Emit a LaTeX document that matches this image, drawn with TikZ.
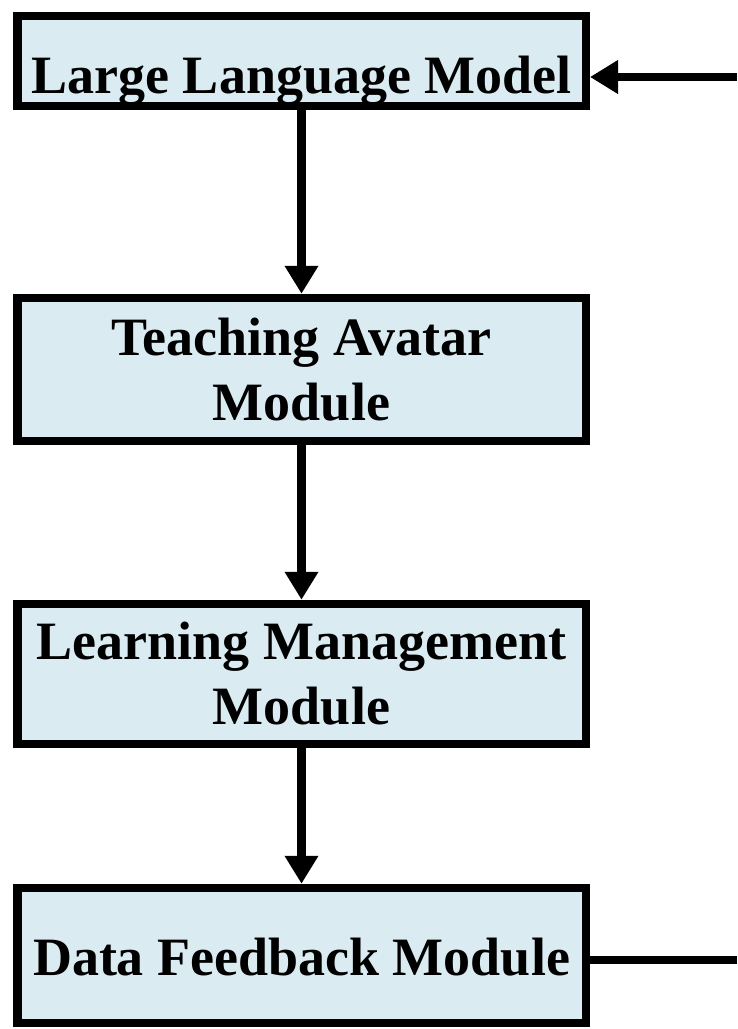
\documentclass[tikz,border=0pt]{standalone}
\usepackage{fontspec}
\setmainfont{Liberation Serif}
\usetikzlibrary{arrows.meta}

\definecolor{boxblue}{RGB}{218,236,242}
\tikzset{block/.style={rectangle, draw, line width=8.5pt, fill=boxblue, minimum width=568.5pt, inner xsep=0pt, align=center, font=\bfseries\fontsize{54}{65}\selectfont}}

\begin{document}
\begin{tikzpicture}[x=1pt, y=-1pt, flow/.style={line width=8.5pt, -{Triangle[width=32pt,length=28pt]}}]
			\useasboundingbox (0,0) rectangle (737,1029);
			
			\node[block, inner ysep=0pt, text height=77pt, text depth=13pt] (llm) at (301.5,61) {Large Language Model};
			\node[block, minimum height=143pt] (avatar) at (301.5,369.5) {Teaching Avatar\\Module};
			\node[block, minimum height=140pt] (lms) at (301.5,674) {Learning Management\\Module};
			\node[block, inner ysep=0pt, text height=87pt, text depth=48pt] (feedback) at (301.5,955.5) {Data Feedback Module};
			
			\coordinate (in) at (737,77);
			\coordinate (out) at (737,960);
			
			\draw[flow] (llm) -- (avatar);
			\draw[flow] (avatar) -- (lms);
			\draw[flow] (lms) -- (feedback);
			
			\draw[flow] (in) -- (llm.east |- in);
			\draw[line width=8.5pt] (feedback.east |- out) -- (out);
			
		\end{tikzpicture}
\end{document}
